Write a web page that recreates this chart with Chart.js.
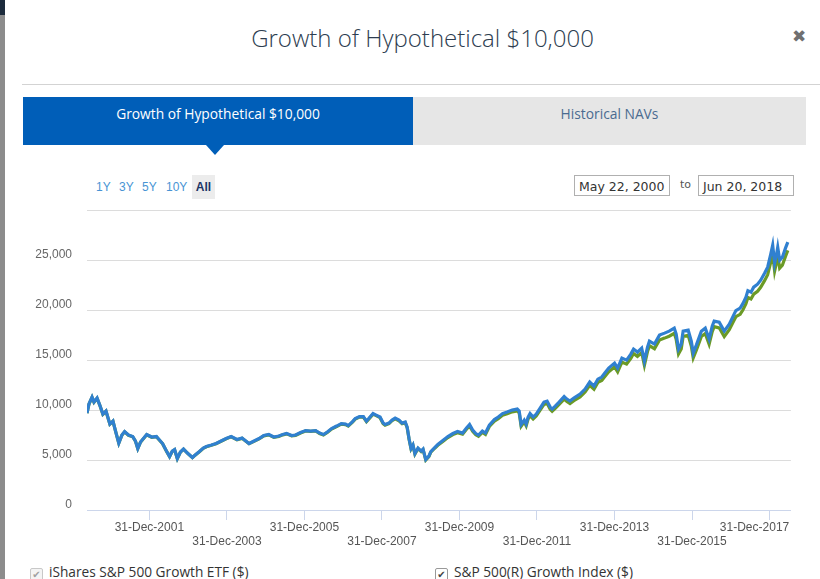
<!DOCTYPE html>
<html>
<head>
<meta charset="utf-8">
<title>Growth of Hypothetical $10,000</title>
<script src="https://cdn.jsdelivr.net/npm/chart.js@4.4.1/dist/chart.umd.min.js"></script>
<style>
  html, body { margin: 0; padding: 0; background: #fff; }
  body { width: 820px; height: 579px; position: relative; overflow: hidden; font-family: 'Open Sans', sans-serif; }
  .edge { position: absolute; left: 0; top: 0; width: 5px; height: 579px; background: #8c8c8c; }
  .edge::before { content: ''; position: absolute; left: 0; top: 0; width: 5px; height: 15px; background: #1c2b3c; }
  .title { position: absolute; left: 0; width: 845px; top: 21px; text-align: center; font-size: 24px; font-weight: 300; color: #2d3d50; }
  .close { position: absolute; left: 792px; top: 26px; font-size: 17px; font-weight: bold; color: #707070; font-family: 'DejaVu Sans', sans-serif; }
  .rule { position: absolute; left: 22px; top: 84px; width: 798px; height: 1px; background: #d3d3d3; }
  .tab { position: absolute; top: 97px; height: 48px; line-height: 34px; text-align: center; font-size: 13.8px; }
  .tab.on { left: 23px; width: 390px; background: #005eb8; color: #fff; }
  .tab.off { left: 413px; width: 393px; background: #e6e6e6; color: #4a6b90; }
  .arrow { position: absolute; left: 206px; top: 145px; width: 0; height: 0; border-left: 9px solid transparent; border-right: 9px solid transparent; border-top: 10px solid #005eb8; }
  .range { position: absolute; top: 175px; height: 24px; line-height: 24px; font-family: 'Liberation Sans', Arial, sans-serif; font-size: 12px; color: #4894d4; }
  .range span { position: absolute; top: 0; }
  .range .all { background: #ececec; color: #1c3566; font-weight: bold; width: 23px; text-align: center; }
  .date { position: absolute; top: 175px; height: 21px; line-height: 21px; border: 1px solid #b0b0b0; font-family: 'DejaVu Sans', sans-serif; font-size: 12.5px; color: #333; padding-left: 4px; box-sizing: border-box; }
  .to { position: absolute; left: 680px; top: 178px; font-size: 11px; color: #555; font-family: 'DejaVu Sans', sans-serif; }
  #wrap { position: absolute; left: 0; top: 188px; width: 820px; height: 364px; }
  .legend { position: absolute; top: 562px; font-size: 13.7px; color: #333; white-space: nowrap; }
  .legend .box { display: inline-block; width: 11px; height: 11px; border: 1px solid #c8c8c8; border-radius: 2px; background: #f4f4f4; vertical-align: -1px; margin-right: 6px; font-size: 10px; line-height: 11px; text-align: center; color: #a0a0a0; font-family: 'DejaVu Sans', sans-serif; }
  .legend .box.dark { color: #444; border-color: #999; background: #fff; }
</style>
</head>
<body>
<div class="edge"></div>
<div class="title">Growth of Hypothetical $10,000</div>
<div class="close">&#10006;</div>
<div class="rule"></div>
<div class="tab on">Growth of Hypothetical $10,000</div>
<div class="tab off">Historical NAVs</div>
<div class="arrow"></div>
<div class="range">
  <span style="left:96px">1Y</span>
  <span style="left:119px">3Y</span>
  <span style="left:142px">5Y</span>
  <span style="left:166px">10Y</span>
  <span class="all" style="left:192px">All</span>
</div>
<div class="date" style="left:574px; width:96px">May 22, 2000</div>
<div class="to">to</div>
<div class="date" style="left:698px; width:96px">Jun 20, 2018</div>
<div id="wrap"><canvas id="growth"></canvas></div>
<div class="legend" style="left:30px"><span class="box">&#10004;</span>iShares S&amp;P 500 Growth ETF ($)</div>
<div class="legend" style="left:435px"><span class="box dark">&#10004;</span>S&amp;P 500(R) Growth Index ($)</div>

<script>
'use strict';

// ── Data (decimal years) ────────────────────────────────────
const xYears = [
  2000.39, 2000.44, 2000.52, 2000.57, 2000.65, 2000.72, 2000.80, 2000.88, 2000.98, 2001.06,
  2001.14, 2001.21, 2001.29, 2001.36, 2001.46, 2001.57, 2001.64, 2001.70, 2001.77, 2001.93,
  2002.06, 2002.18, 2002.26, 2002.34, 2002.44, 2002.52, 2002.59, 2002.65, 2002.72, 2002.80,
  2002.88, 2002.98, 2003.11, 2003.18, 2003.29, 2003.39, 2003.47, 2003.60, 2003.72, 2003.85,
  2003.98, 2004.11, 2004.26, 2004.39, 2004.57, 2004.70, 2004.83, 2004.95, 2005.08, 2005.21,
  2005.34, 2005.44, 2005.54, 2005.67, 2005.77, 2005.90, 2006.03, 2006.16, 2006.29, 2006.39,
  2006.49, 2006.59, 2006.70, 2006.83, 2006.95, 2007.06, 2007.13, 2007.24, 2007.31, 2007.42,
  2007.52, 2007.60, 2007.67, 2007.77, 2007.85, 2007.95, 2008.03, 2008.08, 2008.18, 2008.26,
  2008.34, 2008.44, 2008.52, 2008.60, 2008.65, 2008.70, 2008.75, 2008.80, 2008.85, 2008.93,
  2009.01, 2009.06, 2009.13, 2009.21, 2009.26, 2009.36, 2009.44, 2009.57, 2009.70, 2009.83,
  2009.95, 2010.08, 2010.18, 2010.26, 2010.34, 2010.42, 2010.49, 2010.59, 2010.67, 2010.77,
  2010.90, 2011.00, 2011.11, 2011.23, 2011.36, 2011.49, 2011.54, 2011.59, 2011.67, 2011.72,
  2011.77, 2011.82, 2011.90, 2011.98, 2012.08, 2012.18, 2012.26, 2012.34, 2012.39, 2012.47,
  2012.57, 2012.70, 2012.77, 2012.85, 2012.95, 2013.11, 2013.24, 2013.36, 2013.47, 2013.57,
  2013.67, 2013.75, 2013.85, 2014.00, 2014.08, 2014.19, 2014.31, 2014.42, 2014.49, 2014.59,
  2014.70, 2014.77, 2014.85, 2014.90, 2015.03, 2015.16, 2015.29, 2015.41, 2015.54, 2015.59,
  2015.65, 2015.72, 2015.77, 2015.90, 2015.98, 2016.03, 2016.11, 2016.24, 2016.34, 2016.44,
  2016.52, 2016.57, 2016.70, 2016.83, 2016.96, 2017.06, 2017.13, 2017.24, 2017.31, 2017.39,
  2017.44, 2017.52, 2017.59, 2017.69, 2017.77, 2017.87, 2017.95, 2018.03, 2018.08, 2018.13,
  2018.18, 2018.21, 2018.26, 2018.33, 2018.41, 2018.47
];

const etfValues = [
  9700, 10600, 11300, 10800, 11200, 10500, 9600, 9900, 8600, 8900,
  7700, 6700, 7500, 7850, 7500, 7350, 6900, 6150, 6800, 7550,
  7300, 7350, 7000, 6650, 5900, 5350, 5900, 6050, 5150, 5800,
  6100, 5700, 5250, 5500, 5850, 6200, 6350, 6500, 6650, 6900,
  7150, 7350, 7050, 7200, 6650, 6900, 7150, 7450, 7550, 7300,
  7400, 7550, 7650, 7450, 7500, 7750, 7950, 7900, 7950, 7700,
  7550, 7800, 8150, 8400, 8650, 8600, 8450, 8850, 9150, 9350,
  9350, 8900, 9200, 9650, 9500, 9300, 8700, 8550, 8700, 9000,
  9200, 9000, 8700, 8800, 8300, 7100, 6150, 6500, 5650, 6200,
  5900, 6100, 5050, 5400, 5850, 6250, 6550, 6950, 7350, 7650,
  7850, 7700, 8200, 8550, 8000, 7650, 7500, 7900, 7700, 8500,
  9050, 9300, 9650, 9800, 10000, 10100, 9900, 8550, 9000, 8600,
  9300, 9650, 9300, 9600, 10200, 10800, 10900, 10300, 10100, 10400,
  10800, 11350, 11100, 10900, 11200, 11600, 12100, 12800, 12400, 13100,
  13300, 13700, 14200, 14700, 14200, 15200, 15000, 15600, 16100, 15800,
  16200, 14900, 16300, 16900, 16600, 17500, 17700, 17900, 18200, 17600,
  16100, 16600, 17900, 18000, 16900, 15700, 16500, 17900, 18200, 17100,
  18400, 18900, 18800, 17900, 18600, 19400, 19950, 20200, 20650, 21300,
  21950, 21800, 22300, 22600, 23000, 23700, 24300, 25600, 26500, 24700,
  25600, 26300, 25000, 25300, 26200, 26800
];

const indexValues = [
  9680, 10580, 11270, 10780, 11170, 10480, 9580, 9880, 8590, 8880,
  7690, 6690, 7480, 7830, 7480, 7330, 6890, 6140, 6780, 7530,
  7280, 7330, 6980, 6630, 5890, 5340, 5880, 6030, 5140, 5790,
  6080, 5690, 5240, 5490, 5830, 6180, 6330, 6480, 6630, 6880,
  7130, 7320, 7020, 7170, 6630, 6870, 7120, 7420, 7520, 7270,
  7370, 7520, 7620, 7420, 7470, 7710, 7910, 7860, 7910, 7660,
  7510, 7760, 8100, 8350, 8600, 8550, 8400, 8800, 9090, 9290,
  9290, 8840, 9140, 9590, 9440, 9240, 8640, 8490, 8640, 8940,
  9130, 8930, 8640, 8730, 8240, 7050, 6100, 6450, 5600, 6150,
  5850, 6050, 5000, 5350, 5790, 6180, 6470, 6860, 7250, 7550,
  7740, 7590, 8080, 8420, 7880, 7530, 7380, 7770, 7570, 8360,
  8900, 9140, 9480, 9630, 9820, 9910, 9710, 8380, 8820, 8430,
  9110, 9450, 9110, 9400, 9990, 10570, 10670, 10080, 9880, 10170,
  10560, 11090, 10850, 10650, 10940, 11320, 11800, 12480, 12090, 12770,
  12960, 13350, 13830, 14310, 13820, 14800, 14600, 15180, 15660, 15370,
  15760, 14480, 15850, 16440, 16140, 17010, 17200, 17390, 17680, 17090,
  15620, 16110, 17380, 17470, 16400, 15220, 16000, 17370, 17660, 16580,
  17850, 18340, 18230, 17350, 18040, 18810, 19340, 19580, 20010, 20640,
  21270, 21120, 21600, 21890, 22280, 22950, 23540, 24800, 25680, 23900,
  24790, 25480, 24200, 24500, 25380, 25980
];

// x-axis ticks: 31-Dec of these years
const tickYears = [2001, 2003, 2005, 2007, 2009, 2011, 2013, 2015, 2017];
const seriesLabels = ['iShares S&P 500 Growth ETF ($)', 'S&P 500(R) Growth Index ($)'];

const pts = vals => vals.map((v, i) => ({ x: xYears[i], y: v }));

new Chart(document.getElementById('growth').getContext('2d'), {
  type: 'line',
  data: {
    datasets: [
      { label: seriesLabels[0], data: pts(etfValues), borderColor: '#3080d0', borderWidth: 3.2, pointRadius: 0, tension: 0 },
      { label: seriesLabels[1], data: pts(indexValues), borderColor: '#6b9a26', borderWidth: 3.2, pointRadius: 0, tension: 0 }
    ]
  },
  options: {
    responsive: true,
    maintainAspectRatio: false,
    animation: false,
    layout: { padding: { top: 10, right: 25, left: 0, bottom: 0 } },
    plugins: { legend: { display: false }, tooltip: { enabled: false } },
    scales: {
      x: {
        type: 'linear',
        min: 2000.39,
        max: 2018.55,
        afterBuildTicks: axis => { axis.ticks = tickYears.map(y => ({ value: y + 0.999 })); },
        afterFit: axis => { axis.height = 42; },
        grid: { drawOnChartArea: false, drawTicks: true, tickLength: 10, color: '#ccd6eb' },
        border: { color: '#ccd6eb' },
        ticks: {
          autoSkip: false,
          maxRotation: 0,
          padding: 0,
          color: '#555',
          font: { family: 'Liberation Sans', size: 12 },
          callback: (v, i) => {
            let s = '31-Dec-' + tickYears[i];
            // last label is pulled left so it stays inside the plot, like the original
            if (i === tickYears.length - 1) s += '         ';
            return i % 2 ? ['', s] : s;
          }
        }
      },
      y: {
        min: 0,
        max: 30000,
        afterFit: axis => { axis.width = 87; },
        grid: { color: '#dcdcdc', drawTicks: false },
        border: { display: false },
        ticks: {
          stepSize: 5000,
          padding: 15,
          labelOffset: -5,
          color: '#666',
          font: { family: 'Liberation Sans', size: 12 },
          callback: v => v === 30000 ? '' : v.toLocaleString('en-US')
        }
      }
    }
  }
});
</script>
</body>
</html>
